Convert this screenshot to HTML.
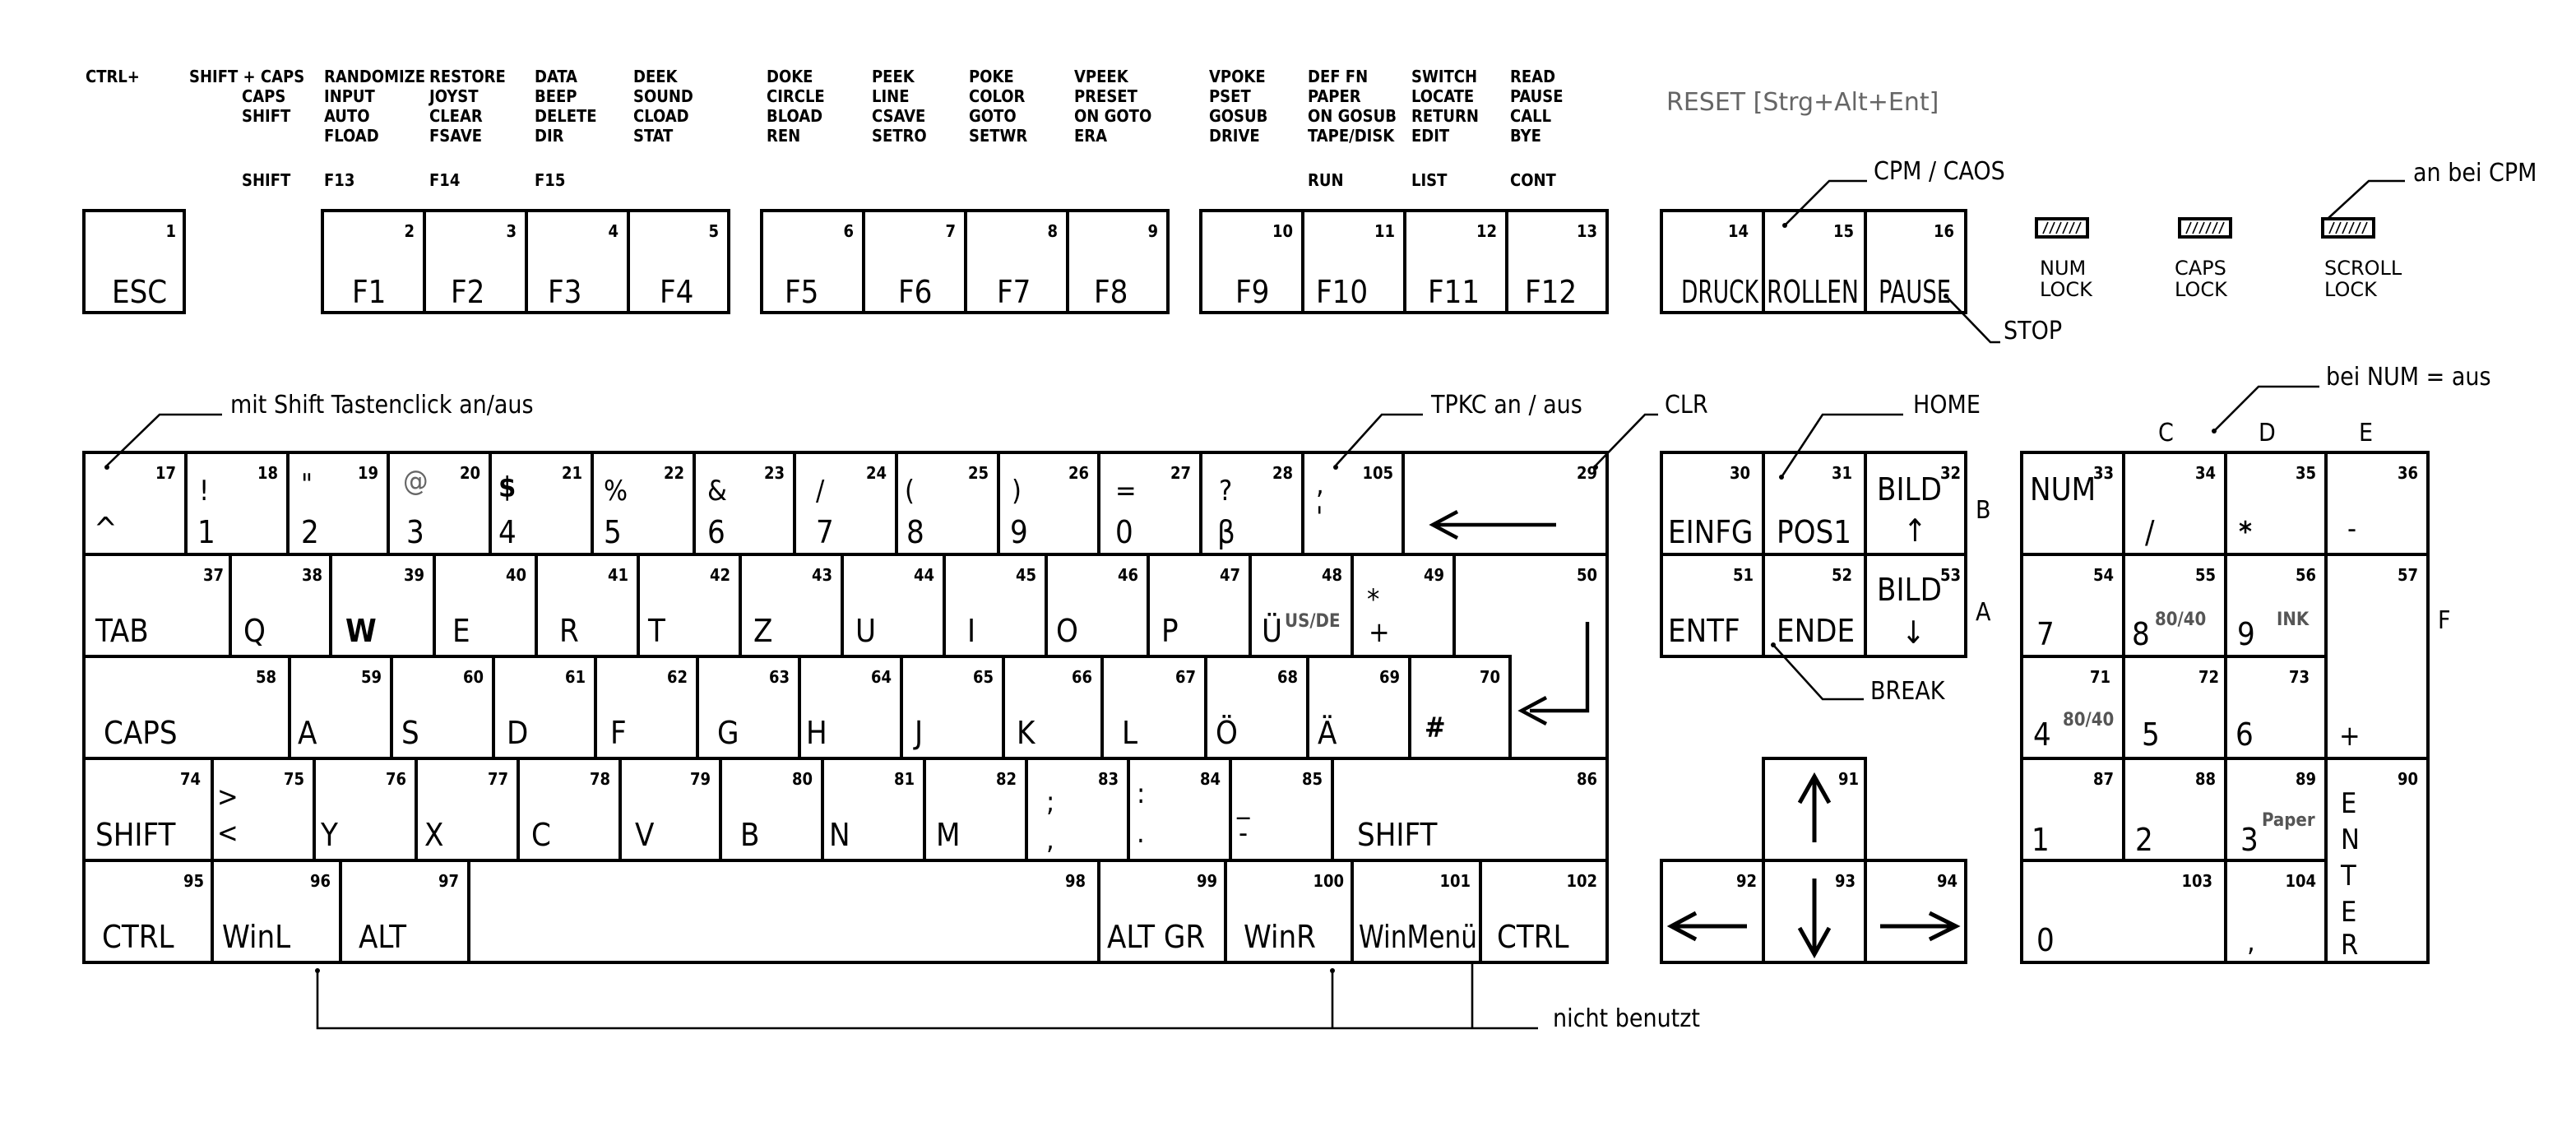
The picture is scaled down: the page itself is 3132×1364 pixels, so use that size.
<!DOCTYPE html>
<html><head><meta charset="utf-8"><style>
html,body{margin:0;padding:0;background:#fff;}
svg{display:block}
text{font-family:"DejaVu Sans Condensed","Liberation Sans Narrow","Liberation Sans",sans-serif;fill:#000}
.k rect,.k polygon{fill:#fff;stroke:#000;stroke-width:2}
.n{font-size:10px;font-weight:bold;text-anchor:end}
.l{font-size:19px}
.s{font-size:17px}
.t{font-size:10px;font-weight:bold}
.a{font-size:15px}
.g{font-size:11px;font-weight:bold;fill:#555}
.ln{fill:none;stroke:#000;stroke-width:1.3}
</style></head><body>
<svg width="3132" height="1364" viewBox="0 0 1566 682" xmlns="http://www.w3.org/2000/svg">
<g class="tl">
<text class="t" x="52" y="50">CTRL+</text>
<text class="t" x="115" y="50">SHIFT + CAPS</text>
<text class="t" x="147" y="62">CAPS</text>
<text class="t" x="147" y="74">SHIFT</text>
<text class="t" x="147" y="113">SHIFT</text>
<text class="t" x="197" y="50">RANDOMIZE</text><text class="t" x="197" y="62">INPUT</text><text class="t" x="197" y="74">AUTO</text><text class="t" x="197" y="86">FLOAD</text><text class="t" x="197" y="113">F13</text>
<text class="t" x="261" y="50">RESTORE</text><text class="t" x="261" y="62">JOYST</text><text class="t" x="261" y="74">CLEAR</text><text class="t" x="261" y="86">FSAVE</text><text class="t" x="261" y="113">F14</text>
<text class="t" x="325" y="50">DATA</text><text class="t" x="325" y="62">BEEP</text><text class="t" x="325" y="74">DELETE</text><text class="t" x="325" y="86">DIR</text><text class="t" x="325" y="113">F15</text>
<text class="t" x="385" y="50">DEEK</text><text class="t" x="385" y="62">SOUND</text><text class="t" x="385" y="74">CLOAD</text><text class="t" x="385" y="86">STAT</text>
<text class="t" x="466" y="50">DOKE</text><text class="t" x="466" y="62">CIRCLE</text><text class="t" x="466" y="74">BLOAD</text><text class="t" x="466" y="86">REN</text>
<text class="t" x="530" y="50">PEEK</text><text class="t" x="530" y="62">LINE</text><text class="t" x="530" y="74">CSAVE</text><text class="t" x="530" y="86">SETRO</text>
<text class="t" x="589" y="50">POKE</text><text class="t" x="589" y="62">COLOR</text><text class="t" x="589" y="74">GOTO</text><text class="t" x="589" y="86">SETWR</text>
<text class="t" x="653" y="50">VPEEK</text><text class="t" x="653" y="62">PRESET</text><text class="t" x="653" y="74">ON GOTO</text><text class="t" x="653" y="86">ERA</text>
<text class="t" x="735" y="50">VPOKE</text><text class="t" x="735" y="62">PSET</text><text class="t" x="735" y="74">GOSUB</text><text class="t" x="735" y="86">DRIVE</text>
<text class="t" x="795" y="50">DEF FN</text><text class="t" x="795" y="62">PAPER</text><text class="t" x="795" y="74">ON GOSUB</text><text class="t" x="795" y="86">TAPE/DISK</text><text class="t" x="795" y="113">RUN</text>
<text class="t" x="858" y="50">SWITCH</text><text class="t" x="858" y="62">LOCATE</text><text class="t" x="858" y="74">RETURN</text><text class="t" x="858" y="86">EDIT</text><text class="t" x="858" y="113">LIST</text>
<text class="t" x="918" y="50">READ</text><text class="t" x="918" y="62">PAUSE</text><text class="t" x="918" y="74">CALL</text><text class="t" x="918" y="86">BYE</text><text class="t" x="918" y="113">CONT</text>
<text x="1013" y="67" style="font-size:15px;fill:#666;font-family:'DejaVu Sans','Liberation Sans',sans-serif">RESET [Strg+Alt+Ent]</text>
</g>
<g class="k">
<rect x="51" y="128" width="61" height="62"/><text class="n" x="107" y="144">1</text><text class="l" x="68" y="184">ESC</text>
<rect x="196" y="128" width="62" height="62"/><text class="n" x="252" y="144">2</text><text class="l" x="214" y="184">F1</text>
<rect x="258" y="128" width="62" height="62"/><text class="n" x="314" y="144">3</text><text class="l" x="274" y="184">F2</text>
<rect x="320" y="128" width="62" height="62"/><text class="n" x="376" y="144">4</text><text class="l" x="333" y="184">F3</text>
<rect x="382" y="128" width="61" height="62"/><text class="n" x="437" y="144">5</text><text class="l" x="401" y="184">F4</text>
<rect x="463" y="128" width="62" height="62"/><text class="n" x="519" y="144">6</text><text class="l" x="477" y="184">F5</text>
<rect x="525" y="128" width="62" height="62"/><text class="n" x="581" y="144">7</text><text class="l" x="546" y="184">F6</text>
<rect x="587" y="128" width="62" height="62"/><text class="n" x="643" y="144">8</text><text class="l" x="606" y="184">F7</text>
<rect x="649" y="128" width="61" height="62"/><text class="n" x="704" y="144">9</text><text class="l" x="665" y="184">F8</text>
<rect x="730" y="128" width="62" height="62"/><text class="n" x="786" y="144">10</text><text class="l" x="751" y="184">F9</text>
<rect x="792" y="128" width="62" height="62"/><text class="n" x="848" y="144">11</text><text class="l" x="800" y="184">F10</text>
<rect x="854" y="128" width="62" height="62"/><text class="n" x="910" y="144">12</text><text class="l" x="868" y="184">F11</text>
<rect x="916" y="128" width="61" height="62"/><text class="n" x="971" y="144">13</text><text class="l" x="927" y="184">F12</text>
<rect x="1010" y="128" width="62" height="62"/><text class="n" x="1063" y="144">14</text><text class="l" x="1022" y="184" textLength="47" lengthAdjust="spacingAndGlyphs">DRUCK</text>
<rect x="1072" y="128" width="62" height="62"/><text class="n" x="1127" y="144">15</text><text class="l" x="1074" y="184" textLength="56" lengthAdjust="spacingAndGlyphs">ROLLEN</text>
<rect x="1134" y="128" width="61" height="62"/><text class="n" x="1188" y="144">16</text><text class="l" x="1142" y="184" textLength="44" lengthAdjust="spacingAndGlyphs">PAUSE</text>

<rect x="51" y="275" width="62" height="62"/><text class="n" x="107" y="291">17</text><text class="l" x="57" y="328">^</text>
<rect x="113" y="275" width="62" height="62"/><text class="n" x="169" y="291">18</text><text class="s" x="121" y="304">!</text><text class="l" x="120" y="330">1</text>
<rect x="175" y="275" width="61" height="62"/><text class="n" x="230" y="291">19</text><text class="s" x="183" y="300">"</text><text class="l" x="183" y="330">2</text>
<rect x="236" y="275" width="62" height="62"/><text class="n" x="292" y="291">20</text><text class="s" x="245" y="298" style="fill:#666">@</text><text class="l" x="247" y="330">3</text>
<rect x="298" y="275" width="62" height="62"/><text class="n" x="354" y="291">21</text><text class="s" x="303" y="302" style="font-weight:bold">$</text><text class="l" x="303" y="330">4</text>
<rect x="360" y="275" width="62" height="62"/><text class="n" x="416" y="291">22</text><text class="s" x="367" y="304">%</text><text class="l" x="367" y="330">5</text>
<rect x="422" y="275" width="61" height="62"/><text class="n" x="477" y="291">23</text><text class="s" x="430" y="304">&amp;</text><text class="l" x="430" y="330">6</text>
<rect x="483" y="275" width="62" height="62"/><text class="n" x="539" y="291">24</text><text class="s" x="496" y="304">/</text><text class="l" x="496" y="330">7</text>
<rect x="545" y="275" width="62" height="62"/><text class="n" x="601" y="291">25</text><text class="s" x="550" y="304">(</text><text class="l" x="551" y="330">8</text>
<rect x="607" y="275" width="61" height="62"/><text class="n" x="662" y="291">26</text><text class="s" x="615" y="304">)</text><text class="l" x="614" y="330">9</text>
<rect x="668" y="275" width="62" height="62"/><text class="n" x="724" y="291">27</text><text class="s" x="678" y="304">=</text><text class="l" x="678" y="330">0</text>
<rect x="730" y="275" width="62" height="62"/><text class="n" x="786" y="291">28</text><text class="s" x="741" y="304">?</text><text class="l" x="740" y="330">β</text>
<rect x="792" y="275" width="61" height="62"/><text class="n" x="847" y="291">105</text><text class="s" x="800" y="300">,</text><text class="s" x="800" y="320">'</text>
<rect x="853" y="275" width="124" height="62"/><text class="n" x="971" y="291">29</text>
<line x1="872" y1="319" x2="946" y2="319" stroke="#000" stroke-width="2.2"/><polyline points="886,311 871,319 886,327" fill="none" stroke="#000" stroke-width="2.2"/>

<rect x="51" y="337" width="89" height="62"/><text class="n" x="136" y="353">37</text><text class="l" x="58" y="390">TAB</text>
<rect x="140" y="337" width="61" height="62"/><text class="n" x="196" y="353">38</text><text class="l" x="148" y="390">Q</text>
<rect x="201" y="337" width="63" height="62"/><text class="n" x="258" y="353">39</text><text class="l" x="210" y="390" style="font-weight:bold">W</text>
<rect x="264" y="337" width="62" height="62"/><text class="n" x="320" y="353">40</text><text class="l" x="275" y="390">E</text>
<rect x="326" y="337" width="62" height="62"/><text class="n" x="382" y="353">41</text><text class="l" x="340" y="390">R</text>
<rect x="388" y="337" width="62" height="62"/><text class="n" x="444" y="353">42</text><text class="l" x="394" y="390">T</text>
<rect x="450" y="337" width="62" height="62"/><text class="n" x="506" y="353">43</text><text class="l" x="458" y="390">Z</text>
<rect x="512" y="337" width="62" height="62"/><text class="n" x="568" y="353">44</text><text class="l" x="520" y="390">U</text>
<rect x="574" y="337" width="62" height="62"/><text class="n" x="630" y="353">45</text><text class="l" x="588" y="390">I</text>
<rect x="636" y="337" width="62" height="62"/><text class="n" x="692" y="353">46</text><text class="l" x="642" y="390">O</text>
<rect x="698" y="337" width="62" height="62"/><text class="n" x="754" y="353">47</text><text class="l" x="706" y="390">P</text>
<rect x="760" y="337" width="62" height="62"/><text class="n" x="816" y="353">48</text><text class="l" x="767" y="390">Ü</text><text class="g" x="781" y="381">US/DE</text>
<rect x="822" y="337" width="62" height="62"/><text class="n" x="878" y="353">49</text><text class="s" x="831" y="370">*</text><text class="s" x="832" y="390">+</text>
<polygon points="884,337 977,337 977,461 918,461 918,399 884,399"/><text class="n" x="971" y="353">50</text>
<polyline points="965,378 965,432 930,432" fill="none" stroke="#000" stroke-width="2.2"/><polyline points="940,424 925,432 940,440" fill="none" stroke="#000" stroke-width="2.2"/>

<rect x="51" y="399" width="125" height="62"/><text class="n" x="168" y="415">58</text><text class="l" x="63" y="452">CAPS</text>
<rect x="176" y="399" width="62" height="62"/><text class="n" x="232" y="415">59</text><text class="l" x="181" y="452">A</text>
<rect x="238" y="399" width="62" height="62"/><text class="n" x="294" y="415">60</text><text class="l" x="244" y="452">S</text>
<rect x="300" y="399" width="62" height="62"/><text class="n" x="356" y="415">61</text><text class="l" x="308" y="452">D</text>
<rect x="362" y="399" width="62" height="62"/><text class="n" x="418" y="415">62</text><text class="l" x="371" y="452">F</text>
<rect x="424" y="399" width="62" height="62"/><text class="n" x="480" y="415">63</text><text class="l" x="436" y="452">G</text>
<rect x="486" y="399" width="62" height="62"/><text class="n" x="542" y="415">64</text><text class="l" x="490" y="452">H</text>
<rect x="548" y="399" width="62" height="62"/><text class="n" x="604" y="415">65</text><text class="l" x="556" y="452">J</text>
<rect x="610" y="399" width="60" height="62"/><text class="n" x="664" y="415">66</text><text class="l" x="618" y="452">K</text>
<rect x="670" y="399" width="63" height="62"/><text class="n" x="727" y="415">67</text><text class="l" x="682" y="452">L</text>
<rect x="733" y="399" width="62" height="62"/><text class="n" x="789" y="415">68</text><text class="l" x="739" y="452">Ö</text>
<rect x="795" y="399" width="62" height="62"/><text class="n" x="851" y="415">69</text><text class="l" x="801" y="452">Ä</text>
<rect x="857" y="399" width="61" height="62"/><text class="n" x="912" y="415">70</text><text class="s" x="866" y="448" style="font-weight:bold">#</text>

<rect x="51" y="461" width="78" height="62"/><text class="n" x="122" y="477">74</text><text class="l" x="58" y="514">SHIFT</text>
<rect x="129" y="461" width="62" height="62"/><text class="n" x="185" y="477">75</text><text class="s" x="132" y="490">&gt;</text><text class="s" x="132" y="512">&lt;</text>
<rect x="191" y="461" width="62" height="62"/><text class="n" x="247" y="477">76</text><text class="l" x="195" y="514">Y</text>
<rect x="253" y="461" width="62" height="62"/><text class="n" x="309" y="477">77</text><text class="l" x="258" y="514">X</text>
<rect x="315" y="461" width="62" height="62"/><text class="n" x="371" y="477">78</text><text class="l" x="323" y="514">C</text>
<rect x="377" y="461" width="61" height="62"/><text class="n" x="432" y="477">79</text><text class="l" x="386" y="514">V</text>
<rect x="438" y="461" width="62" height="62"/><text class="n" x="494" y="477">80</text><text class="l" x="450" y="514">B</text>
<rect x="500" y="461" width="62" height="62"/><text class="n" x="556" y="477">81</text><text class="l" x="504" y="514">N</text>
<rect x="562" y="461" width="62" height="62"/><text class="n" x="618" y="477">82</text><text class="l" x="569" y="514">M</text>
<rect x="624" y="461" width="62" height="62"/><text class="n" x="680" y="477">83</text><text class="s" x="636" y="493">;</text><text class="s" x="636" y="516">,</text>
<rect x="686" y="461" width="62" height="62"/><text class="n" x="742" y="477">84</text><text class="s" x="691" y="488">:</text><text class="s" x="691" y="512">.</text>
<rect x="748" y="461" width="62" height="62"/><text class="n" x="804" y="477">85</text><text class="s" x="752" y="494">_</text><text class="s" x="753" y="512">-</text>
<rect x="810" y="461" width="167" height="62"/><text class="n" x="971" y="477">86</text><text class="l" x="825" y="514">SHIFT</text>

<rect x="51" y="523" width="78" height="62"/><text class="n" x="124" y="539">95</text><text class="l" x="62" y="576">CTRL</text>
<rect x="129" y="523" width="78" height="62"/><text class="n" x="201" y="539">96</text><text class="l" x="135" y="576">WinL</text>
<rect x="207" y="523" width="78" height="62"/><text class="n" x="279" y="539">97</text><text class="l" x="218" y="576">ALT</text>
<rect x="285" y="523" width="383" height="62"/><text class="n" x="660" y="539">98</text>
<rect x="668" y="523" width="77" height="62"/><text class="n" x="740" y="539">99</text><text class="l" x="673" y="576">ALT GR</text>
<rect x="745" y="523" width="77" height="62"/><text class="n" x="817" y="539">100</text><text class="l" x="756" y="576">WinR</text>
<rect x="822" y="523" width="78" height="62"/><text class="n" x="894" y="539">101</text><text class="l" x="826" y="576" textLength="72" lengthAdjust="spacingAndGlyphs">WinMenü</text>
<rect x="900" y="523" width="77" height="62"/><text class="n" x="971" y="539">102</text><text class="l" x="910" y="576">CTRL</text>

<rect x="1010" y="275" width="62" height="62"/><text class="n" x="1064" y="291">30</text><text class="l" x="1014" y="330">EINFG</text>
<rect x="1072" y="275" width="62" height="62"/><text class="n" x="1126" y="291">31</text><text class="l" x="1080" y="330">POS1</text>
<rect x="1134" y="275" width="61" height="62"/><text class="n" x="1192" y="291">32</text><text class="l" x="1141" y="304">BILD</text><text class="l" x="1157" y="329">↑</text>
<rect x="1010" y="337" width="62" height="62"/><text class="n" x="1066" y="353">51</text><text class="l" x="1014" y="390">ENTF</text>
<rect x="1072" y="337" width="62" height="62"/><text class="n" x="1126" y="353">52</text><text class="l" x="1080" y="390">ENDE</text>
<rect x="1134" y="337" width="61" height="62"/><text class="n" x="1192" y="353">53</text><text class="l" x="1141" y="365">BILD</text><text class="l" x="1156" y="391">↓</text>

<rect x="1072" y="461" width="62" height="62"/><text class="n" x="1130" y="477">91</text>
<rect x="1010" y="523" width="62" height="62"/><text class="n" x="1068" y="539">92</text>
<rect x="1072" y="523" width="62" height="62"/><text class="n" x="1128" y="539">93</text>
<rect x="1134" y="523" width="61" height="62"/><text class="n" x="1190" y="539">94</text>

<rect x="1229" y="275" width="62" height="62"/><text class="n" x="1285" y="291">33</text><text class="l" x="1234" y="304">NUM</text>
<rect x="1291" y="275" width="62" height="62"/><text class="n" x="1347" y="291">34</text><text class="l" x="1304" y="330">/</text>
<rect x="1353" y="275" width="61" height="62"/><text class="n" x="1408" y="291">35</text><text class="s" x="1361" y="329" style="font-weight:bold">*</text>
<rect x="1414" y="275" width="62" height="62"/><text class="n" x="1470" y="291">36</text><text class="s" x="1427" y="327">-</text>
<rect x="1229" y="337" width="62" height="62"/><text class="n" x="1285" y="353">54</text><text class="l" x="1238" y="392">7</text>
<rect x="1291" y="337" width="62" height="62"/><text class="n" x="1347" y="353">55</text><text class="l" x="1296" y="392">8</text><text class="g" x="1310" y="380">80/40</text>
<rect x="1353" y="337" width="61" height="62"/><text class="n" x="1408" y="353">56</text><text class="l" x="1360" y="392">9</text><text class="g" x="1384" y="380">INK</text>
<rect x="1414" y="337" width="62" height="124"/><text class="n" x="1470" y="353">57</text><text class="s" x="1422" y="453">+</text>
<rect x="1229" y="399" width="62" height="62"/><text class="n" x="1283" y="415">71</text><text class="l" x="1236" y="453">4</text><text class="g" x="1254" y="441">80/40</text>
<rect x="1291" y="399" width="62" height="62"/><text class="n" x="1349" y="415">72</text><text class="l" x="1302" y="453">5</text>
<rect x="1353" y="399" width="61" height="62"/><text class="n" x="1404" y="415">73</text><text class="l" x="1359" y="453">6</text>
<rect x="1229" y="461" width="62" height="62"/><text class="n" x="1285" y="477">87</text><text class="l" x="1235" y="517">1</text>
<rect x="1291" y="461" width="62" height="62"/><text class="n" x="1347" y="477">88</text><text class="l" x="1298" y="517">2</text>
<rect x="1353" y="461" width="61" height="62"/><text class="n" x="1408" y="477">89</text><text class="l" x="1362" y="517">3</text><text class="g" x="1375" y="502">Paper</text>
<rect x="1414" y="461" width="62" height="124"/><text class="n" x="1470" y="477">90</text>
<text class="s" x="1423" y="494">E</text><text class="s" x="1423" y="516">N</text><text class="s" x="1423" y="538">T</text><text class="s" x="1423" y="560">E</text><text class="s" x="1423" y="580">R</text>
<rect x="1229" y="523" width="124" height="62"/><text class="n" x="1345" y="539">103</text><text class="l" x="1238" y="578">0</text>
<rect x="1353" y="523" width="61" height="62"/><text class="n" x="1408" y="539">104</text><text class="s" x="1366" y="578">,</text>
</g>

<g stroke="#000" stroke-width="2.5" fill="none">
<line x1="1103" y1="512" x2="1103" y2="474"/><polyline points="1094,488 1103,472 1112,488"/>
<line x1="1103" y1="534" x2="1103" y2="578"/><polyline points="1094,564 1103,580 1112,564"/>
<line x1="1017" y1="563" x2="1062" y2="563"/><polyline points="1031,555 1016,563 1031,571"/>
<line x1="1143" y1="563" x2="1187" y2="563"/><polyline points="1173,555 1189,563 1173,571"/>
</g>

<g>
<rect x="1238" y="133" width="31" height="11" fill="#fff" stroke="#000" stroke-width="2"/>
<rect x="1325" y="133" width="31" height="11" fill="#fff" stroke="#000" stroke-width="2"/>
<rect x="1412" y="133" width="31" height="11" fill="#fff" stroke="#000" stroke-width="2"/>
<g stroke="#000" stroke-width="0.8">
<path d="M1242,142l3,-7M1246,142l3,-7M1250,142l3,-7M1254,142l3,-7M1258,142l3,-7M1262,142l3,-7"/>
<path d="M1329,142l3,-7M1333,142l3,-7M1337,142l3,-7M1341,142l3,-7M1345,142l3,-7M1349,142l3,-7"/>
<path d="M1416,142l3,-7M1420,142l3,-7M1424,142l3,-7M1428,142l3,-7M1432,142l3,-7M1436,142l3,-7"/>
</g>
<text x="1240" y="167" style="font-size:12px;font-family:'DejaVu Sans',sans-serif">NUM</text>
<text x="1240" y="180" style="font-size:12px;font-family:'DejaVu Sans',sans-serif">LOCK</text>
<text x="1322" y="167" style="font-size:12px;font-family:'DejaVu Sans',sans-serif">CAPS</text>
<text x="1322" y="180" style="font-size:12px;font-family:'DejaVu Sans',sans-serif">LOCK</text>
<text x="1413" y="167" style="font-size:12px;font-family:'DejaVu Sans',sans-serif">SCROLL</text>
<text x="1413" y="180" style="font-size:12px;font-family:'DejaVu Sans',sans-serif">LOCK</text>
</g>

<g class="ln">
<polyline points="65,283 97,252 135,252"/>
<polyline points="812,283 840,252 865,252"/>
<polyline points="970,283 1000,252 1008,252"/>
<polyline points="1083,290 1108,252 1157,252"/>
<polyline points="1078,392 1108,425 1133,425"/>
<polyline points="1085,137 1112,110 1135,110"/>
<polyline points="1183,180 1210,208 1216,208"/>
<polyline points="1415,133 1440,110 1462,110"/>
<polyline points="1346,262 1373,235 1410,235"/>
<polyline points="193,590 193,625 935,625"/>
<line x1="810" y1="590" x2="810" y2="625"/>
<line x1="895" y1="585" x2="895" y2="625"/>
</g>
<g fill="#000"><circle cx="65" cy="284" r="1.5"/><circle cx="812" cy="284" r="1.5"/><circle cx="970" cy="284" r="1.5"/><circle cx="1083" cy="290" r="1.5"/><circle cx="1078" cy="392" r="1.5"/><circle cx="1085" cy="137" r="1.5"/><circle cx="1183" cy="180" r="1.5"/><circle cx="1346" cy="262" r="1.5"/><circle cx="193" cy="590" r="1.5"/><circle cx="810" cy="590" r="1.5"/></g>
<text class="a" x="140" y="251">mit Shift Tastenclick an/aus</text>
<text class="a" x="870" y="251">TPKC an / aus</text>
<text class="a" x="1012" y="251">CLR</text>
<text class="a" x="1163" y="251">HOME</text>
<text class="a" x="1137" y="425">BREAK</text>
<text class="a" x="1139" y="109">CPM / CAOS</text>
<text class="a" x="1218" y="206">STOP</text>
<text class="a" x="1467" y="110">an bei CPM</text>
<text class="a" x="1414" y="234">bei NUM = aus</text>
<text class="a" x="944" y="624">nicht benutzt</text>
<text class="a" x="1312" y="268">C</text><text class="a" x="1373" y="268">D</text><text class="a" x="1434" y="268">E</text>
<text class="a" x="1201" y="315">B</text><text class="a" x="1201" y="377">A</text><text class="a" x="1482" y="382">F</text>
</svg>
</body></html>
